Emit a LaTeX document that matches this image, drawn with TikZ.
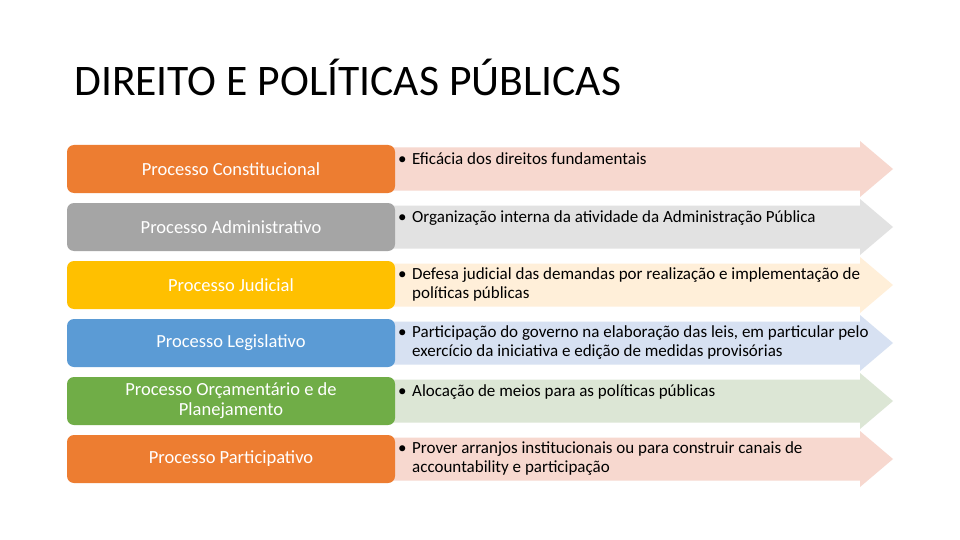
\documentclass[tikz,border=0pt]{standalone}
\usepackage{fontspec}
\setmainfont{Carlito}
\definecolor{corange}{HTML}{ED7D31}
\definecolor{cgray}{HTML}{A5A5A5}
\definecolor{cyellow}{HTML}{FFC000}
\definecolor{cblue}{HTML}{5B9BD5}
\definecolor{cgreen}{HTML}{70AD47}
\definecolor{lorange}{HTML}{F7D8CF}
\definecolor{lgray}{HTML}{E2E2E2}
\definecolor{lyellow}{HTML}{FFEFD9}
\definecolor{lblue}{HTML}{D7E1F2}
\definecolor{lgreen}{HTML}{DCE6D5}
\tikzset{
  procbox/.style={draw=none, rounded corners=7pt, minimum width=328pt, minimum height=48pt,
    inner sep=0pt, text=white, align=center, font=\fontsize{18.5}{20}\selectfont},
  desctext/.style={anchor=north west, inner sep=0pt,
    font=\fontsize{17}{19.5}\selectfont},
}
\newcommand{\arrowrow}[2]{%
  \fill[#2] (388,#1-21.5) -- (860,#1-21.5) -- (860,#1-28) -- (893,#1) -- (860,#1+28)
    -- (860,#1+21.5) -- (388,#1+21.5) -- cycle;}
\newcommand{\descitem}[1]{\makebox[14pt][l]{•}\begin{tabular}[t]{@{}l@{}}#1\end{tabular}}
\begin{document}
\begin{tikzpicture}[x=1pt,y=-1pt]
\useasboundingbox[fill=white] (0,0) rectangle (960,540);
\node[anchor=west, inner sep=0pt, font=\fontsize{43.6}{45}\selectfont] (title) at (74,77) {DIREITO E POLÍTICAS PÚBLICAS};
% arrows
\arrowrow{169}{lorange}
\arrowrow{227}{lgray}
\arrowrow{285}{lyellow}
\arrowrow{343}{lblue}
\arrowrow{401}{lgreen}
\arrowrow{459}{lorange}
% left boxes
\node[procbox, fill=corange] (p1) at (231,169) {Processo Constitucional};
\node[procbox, fill=cgray] (p2) at (231,227) {Processo Administrativo};
\node[procbox, fill=cyellow] (p3) at (231,285) {Processo Judicial};
\node[procbox, fill=cblue] (p4) at (231,343) {Processo Legislativo};
\node[procbox, fill=cgreen] (p5) at (231,401) {Processo Orçamentário e de\\Planejamento};
\node[procbox, fill=corange] (p6) at (231,459) {Processo Participativo};
% descriptions
\renewcommand{\arraystretch}{0.98}
\node[desctext] (d1) at (398,151) {\descitem{Eficácia dos direitos fundamentais}};
\node[desctext] (d2) at (398,209) {\descitem{Organização interna da atividade da Administração Pública}};
\node[desctext] (d3) at (398,266) {\descitem{Defesa judicial das demandas por realização e implementação de\\políticas públicas}};
\node[desctext] (d4) at (398,324) {\descitem{Participação do governo na elaboração das leis, em particular pelo\\exercício da iniciativa e edição de medidas provisórias}};
\node[desctext] (d5) at (398,383) {\descitem{Alocação de meios para as políticas públicas}};
\node[desctext] (d6) at (398,440) {\descitem{Prover arranjos institucionais ou para construir canais de\\accountability e participação}};
\end{tikzpicture}
\end{document}
